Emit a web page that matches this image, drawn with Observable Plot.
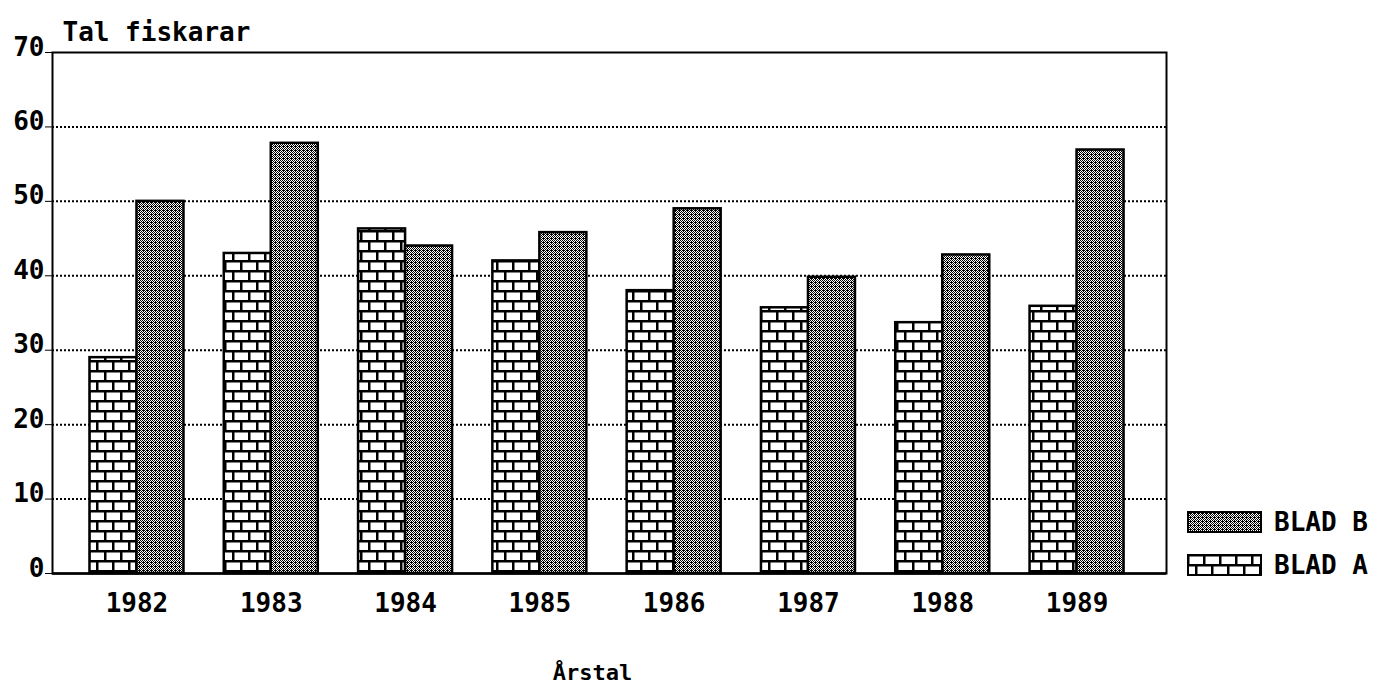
<!DOCTYPE html>
<html>
<head>
<meta charset="utf-8">
<script src="https://cdn.jsdelivr.net/npm/d3@7"></script>
<script src="https://cdn.jsdelivr.net/npm/@observablehq/plot@0.6"></script>
<style>
  body { margin: 0; background: #fff; }
  #wrap { position: relative; width: 1374px; height: 686px; overflow: hidden; }
  #legend { position: absolute; left: 1187px; top: 511px; font-family: "DejaVu Sans Mono", monospace; font-weight: bold; font-size: 26px; color: #000; }
  #legend .row { display: flex; align-items: center; height: 22px; margin-bottom: 21px; }
  #legend svg { width: 75px; height: 22px; margin-right: 12px; display: block; }
</style>
</head>
<body>
<div id="wrap"><div id="legend"></div></div>
<script>
const years = [1982, 1983, 1984, 1985, 1986, 1987, 1988, 1989];
const bladA = [29, 43, 46.3, 42, 38, 35.7, 33.7, 35.9];
const bladB = [50, 57.8, 44, 45.8, 49, 39.8, 42.8, 56.9];
const yTicks = [0, 10, 20, 30, 40, 50, 60, 70];
const gridTicks = [10, 20, 30, 40, 50, 60];
const seriesNames = ["BLAD B", "BLAD A"];
const title = "Tal fiskarar";
const xLabel = "Årstal";

const dataA = years.map((year, i) => ({year, value: bladA[i]}));
const dataB = years.map((year, i) => ({year, value: bladB[i]}));
const half = 0.35;
const font = "DejaVu Sans Mono";

const chart = Plot.plot({
  width: 1374,
  height: 686,
  marginLeft: 52,
  marginRight: 208,
  marginTop: 52,
  marginBottom: 113,
  style: {background: "#fff", color: "#000", fontFamily: font},
  x: {domain: [1981.371, 1989.666], axis: null},
  y: {domain: [0, 70], ticks: yTicks, tickSize: 7, tickFormat: () => "", label: null},
  marks: [
    Plot.ruleY(gridTicks, {stroke: "#000", strokeWidth: 2, strokeDasharray: "2,2"}),
    Plot.rectY(dataA, {x1: d => d.year - half, x2: d => d.year, y1: 0, y2: "value", fill: "url(#brick)", stroke: "#000", strokeWidth: 2.5}),
    Plot.rectY(dataB, {x1: d => d.year, x2: d => d.year + half, y1: 0, y2: "value", fill: "url(#stipple)", stroke: "#000", strokeWidth: 2.5}),
    Plot.frame({stroke: "#000", strokeWidth: 2}),
    Plot.ruleY([0], {stroke: "#000", strokeWidth: 2.5}),
    Plot.text(yTicks, {y: d => d, text: d => String(d), frameAnchor: "left", textAnchor: "end", lineAnchor: "bottom", dx: -8, dy: 3, fontSize: 26, fontWeight: "bold", fontFamily: font}),
    Plot.text(years, {x: d => d, text: d => String(d), frameAnchor: "bottom", lineAnchor: "middle", dy: 30, fontSize: 26, fontWeight: "bold", fontFamily: font}),
    Plot.text([title], {frameAnchor: "top-left", textAnchor: "start", lineAnchor: "bottom", dx: 10, dy: -12, fontSize: 26, fontWeight: "bold", fontFamily: font}),
    Plot.text([xLabel], {frameAnchor: "bottom", lineAnchor: "bottom", dx: -17, dy: 106, fontSize: 22, fontWeight: "bold", fontFamily: font})
  ]
});

const defs = `
<defs>
  <pattern id="brick" patternUnits="userSpaceOnUse" width="32" height="20">
    <rect width="32" height="20" fill="#fff"/>
    <rect x="0" y="0" width="32" height="2.5" fill="#000"/>
    <rect x="0" y="10" width="32" height="2.5" fill="#000"/>
    <rect x="0" y="0" width="2.5" height="10" fill="#000"/>
    <rect x="16" y="0" width="2.5" height="10" fill="#000"/>
    <rect x="8" y="10" width="2.5" height="10" fill="#000"/>
    <rect x="24" y="10" width="2.5" height="10" fill="#000"/>
  </pattern>
  <pattern id="stipple" patternUnits="userSpaceOnUse" width="4" height="4" shape-rendering="crispEdges">
    <rect width="4" height="4" fill="#fff"/>
    <rect x="0" y="0" width="1" height="1" fill="#000"/>
    <rect x="2" y="0" width="1" height="1" fill="#000"/>
    <rect x="1" y="1" width="1" height="1" fill="#000"/>
    <rect x="3" y="1" width="1" height="1" fill="#000"/>
    <rect x="0" y="2" width="1" height="1" fill="#000"/>
    <rect x="2" y="2" width="2" height="1" fill="#000"/>
    <rect x="1" y="3" width="1" height="1" fill="#000"/>
    <rect x="3" y="3" width="1" height="1" fill="#000"/>
  </pattern>
</defs>`;
chart.insertAdjacentHTML("afterbegin", defs);
document.getElementById("wrap").prepend(chart);

const legend = d3.select("#legend");
const fills = {"BLAD B": "url(#stipple)", "BLAD A": "url(#brick)"};
for (const name of seriesNames) {
  const row = legend.append("div").attr("class", "row");
  const sw = row.append("svg").attr("viewBox", "0 0 75 22");
  sw.append("rect").attr("x", 1).attr("y", 1).attr("width", 73).attr("height", 20)
    .attr("fill", fills[name]).attr("stroke", "#000").attr("stroke-width", 2);
  row.append("span").text(name);
}
</script>
</body>
</html>
